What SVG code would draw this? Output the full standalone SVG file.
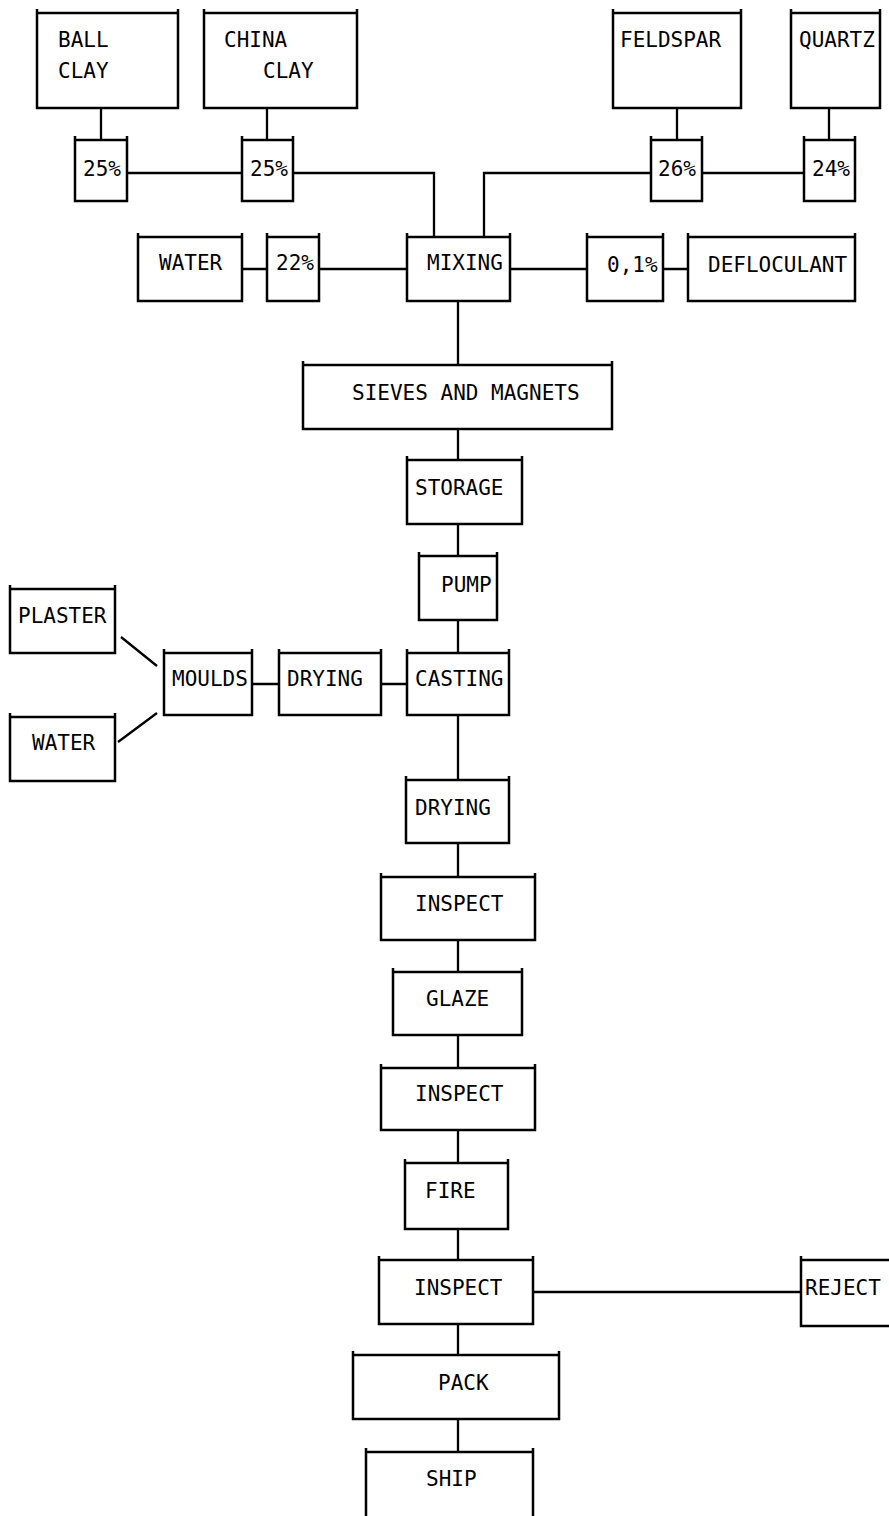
<svg xmlns="http://www.w3.org/2000/svg" width="889" height="1516" viewBox="0 0 889 1516">
<style>
.b{fill:none;stroke:#000;stroke-width:2.5}
.c{fill:none;stroke:#000;stroke-width:2.3}
text{font-family:"DejaVu Sans Mono","Liberation Mono",monospace;font-size:21px;fill:#000}
</style>
<rect width="889" height="1516" fill="#fff"/>
<g id="connectors" class="c">
<path d="M101 108V140M267 108V140M127 173H242M293 173H434V237"/>
<path d="M677 108V140M829 108V140M702 173H804M651 173H484V237"/>
<path d="M242 269H267M319 269H407M510 269H587M663 269H688"/>
<path d="M458 301V365M458 429V460M458 524V556M458 620V653"/>
<path d="M252 684H279M381 684H407M121 637L157 666M118 742L157 713"/>
<path d="M458 715V780M458 843V877M458 940V972M458 1035V1068M458 1130V1163M458 1229V1260M458 1324V1355M458 1419V1452"/>
<path d="M533 1292H801"/>
</g>
<g id="ballclay"><path class="b" d="M37 9V108H178V9M37 13H178"/><text x="58" y="47">BALL</text><text x="58" y="78">CLAY</text></g>
<g id="chinaclay"><path class="b" d="M204 9V108H357V9M204 13H357"/><text x="224" y="47">CHINA</text><text x="263" y="78">CLAY</text></g>
<g id="feldspar"><path class="b" d="M613 9V108H741V9M613 13H741"/><text x="620" y="47">FELDSPAR</text></g>
<g id="quartz"><path class="b" d="M791 9V108H880V9M791 13H880"/><text x="799" y="47">QUARTZ</text></g>
<g id="p25a"><path class="b" d="M75 136V201H127V136M75 140H127"/><text x="83" y="176">25%</text></g>
<g id="p25b"><path class="b" d="M242 136V201H293V136M242 140H293"/><text x="250" y="176">25%</text></g>
<g id="p26"><path class="b" d="M651 136V201H702V136M651 140H702"/><text x="658" y="176">26%</text></g>
<g id="p24"><path class="b" d="M804 136V201H855V136M804 140H855"/><text x="812" y="176">24%</text></g>
<g id="water1"><path class="b" d="M138 233V301H242V233M138 237H242"/><text x="159" y="270">WATER</text></g>
<g id="p22"><path class="b" d="M267 233V301H319V233M267 237H319"/><text x="276" y="270">22%</text></g>
<g id="mixing"><path class="b" d="M407 233V301H510V233M407 237H510"/><text x="427" y="270">MIXING</text></g>
<g id="p01"><path class="b" d="M587 233V301H663V233M587 237H663"/><text x="607" y="272">0,1%</text></g>
<g id="defloculant"><path class="b" d="M688 233V301H855V233M688 237H855"/><text x="708" y="272">DEFLOCULANT</text></g>
<g id="sieves"><path class="b" d="M303 361V429H612V361M303 365H612"/><text x="352" y="400">SIEVES AND MAGNETS</text></g>
<g id="storage"><path class="b" d="M407 456V524H522V456M407 460H522"/><text x="415" y="495">STORAGE</text></g>
<g id="pump"><path class="b" d="M419 552V620H497V552M419 556H497"/><text x="441" y="592">PUMP</text></g>
<g id="plaster"><path class="b" d="M10 585V653H115V585M10 589H115"/><text x="18" y="623">PLASTER</text></g>
<g id="water2"><path class="b" d="M10 713V781H115V713M10 717H115"/><text x="32" y="750">WATER</text></g>
<g id="moulds"><path class="b" d="M164 649V715H252V649M164 653H252"/><text x="172" y="686">MOULDS</text></g>
<g id="drying1"><path class="b" d="M279 649V715H381V649M279 653H381"/><text x="287" y="686">DRYING</text></g>
<g id="casting"><path class="b" d="M407 649V715H509V649M407 653H509"/><text x="415" y="686">CASTING</text></g>
<g id="drying2"><path class="b" d="M406 776V843H509V776M406 780H509"/><text x="415" y="815">DRYING</text></g>
<g id="inspect1"><path class="b" d="M381 873V940H535V873M381 877H535"/><text x="415" y="911">INSPECT</text></g>
<g id="glaze"><path class="b" d="M393 968V1035H522V968M393 972H522"/><text x="426" y="1006">GLAZE</text></g>
<g id="inspect2"><path class="b" d="M381 1064V1130H535V1064M381 1068H535"/><text x="415" y="1101">INSPECT</text></g>
<g id="fire"><path class="b" d="M405 1159V1229H508V1159M405 1163H508"/><text x="425" y="1198">FIRE</text></g>
<g id="inspect3"><path class="b" d="M379 1256V1324H533V1256M379 1260H533"/><text x="414" y="1295">INSPECT</text></g>
<g id="reject"><path class="b" d="M801 1256V1326H889M801 1260H889"/><text x="805" y="1295">REJECT</text></g>
<g id="pack"><path class="b" d="M353 1351V1419H559V1351M353 1355H559"/><text x="438" y="1390">PACK</text></g>
<g id="ship"><path class="b" d="M366 1448V1516M533 1448V1516M366 1452H533"/><text x="426" y="1486">SHIP</text></g>
</svg>
